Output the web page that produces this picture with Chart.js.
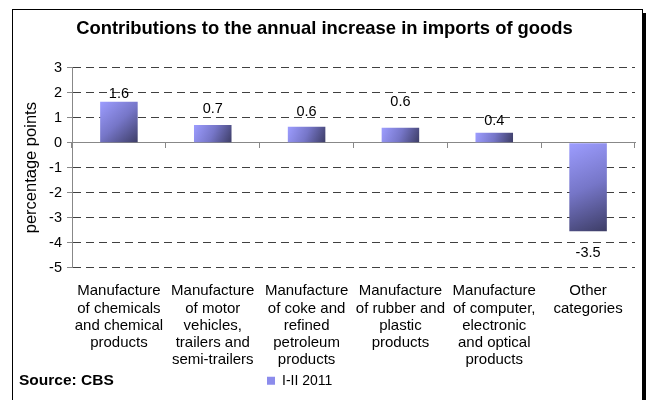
<!DOCTYPE html>
<html><head><meta charset="utf-8">
<script src="https://cdn.jsdelivr.net/npm/chart.js@4/dist/chart.umd.min.js"></script>
<style>
html,body{margin:0;padding:0;background:#fff;}
#wrap{position:relative;width:646px;height:400px;overflow:hidden;}
#frame{position:absolute;left:12px;top:9px;width:629px;height:420px;border:1px solid #000;box-shadow:4px 4px 0 #000;background:#fff;}
canvas{position:absolute;left:0;top:0;}
</style></head><body>
<div id="wrap"><div id="frame"></div><canvas id="c" width="646" height="400"></canvas></div>
<script>
// ---- data ----
const categories = [
  ["Manufacture","of chemicals","and chemical","products"],
  ["Manufacture","of motor","vehicles,","trailers and","semi-trailers"],
  ["Manufacture","of coke and","refined","petroleum","products"],
  ["Manufacture","of rubber and","plastic","products"],
  ["Manufacture","of computer,","electronic","and optical","products"],
  ["Other","categories"]
];
const seriesName = "I-II 2011";
const values = [1.64, 0.71, 0.64, 0.6, 0.4, -3.54];
const yTicks = [3, 2, 1, 0, -1, -2, -3, -4, -5];
const titleText = "Contributions to the annual increase in imports of goods";
const yTitle = "percentage points";
const sourceText = "Source: CBS";

// ---- styles ----
const FONT = '"Liberation Sans", Arial, sans-serif';
const labelNudges = [-8, -16, -15, -26, -12, 22];
const legendColor = '#8c8cec';

function barGradient(c) {
  const chart = c.chart;
  const {ctx, chartArea, scales} = chart;
  if (!chartArea || c.type !== 'data' || c.dataIndex === undefined || !scales.x || !scales.y) return legendColor;
  const xs = scales.x, ys = scales.y;
  const cx = xs.getPixelForValue(c.dataIndex);
  const half = (xs.width / categories.length) * 0.4 / 2;
  const y0 = ys.getPixelForValue(0), y1 = ys.getPixelForValue(c.raw);
  const top = Math.min(y0, y1), bot = Math.max(y0, y1);
  const g = ctx.createLinearGradient(cx - half, top, cx + half, bot);
  g.addColorStop(0, '#9d9dff');
  g.addColorStop(0.5, '#7676c8');
  g.addColorStop(1, '#3d3d66');
  return g;
}

const valueLabels = {
  id: 'valueLabels',
  afterDatasetsDraw(chart) {
    const {ctx} = chart;
    const meta = chart.getDatasetMeta(0);
    ctx.save();
    ctx.font = '14.5px ' + FONT;
    ctx.fillStyle = '#000';
    ctx.textAlign = 'center';
    ctx.textBaseline = 'middle';
    meta.data.forEach((el, i) => {
      ctx.fillText(values[i].toFixed(1), el.x, el.y + labelNudges[i]);
    });
    ctx.restore();
  }
};

const sourceNote = {
  id: 'sourceNote',
  afterDraw(chart) {
    const {ctx} = chart;
    ctx.save();
    ctx.font = 'bold 15.5px ' + FONT;
    ctx.fillStyle = '#000';
    ctx.textAlign = 'left';
    ctx.textBaseline = 'middle';
    ctx.fillText(sourceText, 19, 381);
    ctx.restore();
  }
};

const legendShift = {
  id: 'legendShift',
  afterLayout(chart) {
    const l = chart.legend;
    if (!l || !l.lineWidths) return;
    const p = l.options.labels.padding;
    const cx = (l.left + p + l.right - l.lineWidths[0]) / 2;
    const d = 267 - cx;
    l.left += d; l.right += d;
  }
};

new Chart(document.getElementById('c'), {
  type: 'bar',
  data: {
    labels: categories,
    datasets: [{
      label: seriesName,
      data: values,
      backgroundColor: barGradient,
      borderWidth: 0,
      barPercentage: 0.4,
      categoryPercentage: 1.0
    }]
  },
  options: {
    responsive: false,
    animation: false,
    layout: {padding: {left: 14, right: 11, top: 0, bottom: 2.3}},
    plugins: {
      title: {
        display: true, text: titleText, color: '#000',
        font: {family: FONT, size: 18.4, weight: 'bold', lineHeight: 1.2},
        padding: {top: 18, bottom: 27.6}
      },
      legend: {
        position: 'bottom',
        labels: {
          boxWidth: 8, boxHeight: 8, color: '#000', padding: 5,
          font: {family: FONT, size: 14},
          generateLabels(chart) {
            const items = Chart.defaults.plugins.legend.labels.generateLabels(chart);
            items.forEach(it => { it.fillStyle = legendColor; it.strokeStyle = legendColor; it.lineWidth = 0; });
            return items;
          }
        }
      },
      tooltip: {enabled: false}
    },
    scales: {
      x: {
        offset: true,
        grid: {display: false, offset: true, drawTicks: false, tickLength: 0},
        border: {display: false},
        ticks: {color: '#000', padding: 15, maxRotation: 0, minRotation: 0, autoSkip: false,
          font: {family: FONT, size: 15, lineHeight: 1.147}},
        afterFit(s) { s.height = 101; }
      },
      x2: {
        type: 'category',
        position: {y: 0},
        offset: true,
        ticks: {display: false},
        grid: {drawOnChartArea: false, drawTicks: true, tickLength: 5, color: '#888', offset: true},
        border: {display: true, color: '#888', width: 1}
      },
      y: {
        min: -5, max: 3,
        afterBuildTicks(s) { s.ticks = yTicks.map(v => ({value: v})); },
        ticks: {color: '#000', padding: 5, font: {family: FONT, size: 14.5}},
        grid: {
          color: c => (c.tick && c.tick.value === 0) ? '#888' : '#404040',
          tickColor: '#888', tickLength: 5, drawTicks: true, tickBorderDash: []
        },
        border: {display: true, color: '#888', width: 1, dash: [8, 5]},
        title: {display: true, text: yTitle, color: '#000',
          font: {family: FONT, size: 16.5}, padding: {top: 8, bottom: 5}},
        afterFit(s) { s.width = 58; }
      }
    }
  },
  plugins: [valueLabels, sourceNote, legendShift]
});
</script>
</body></html>
